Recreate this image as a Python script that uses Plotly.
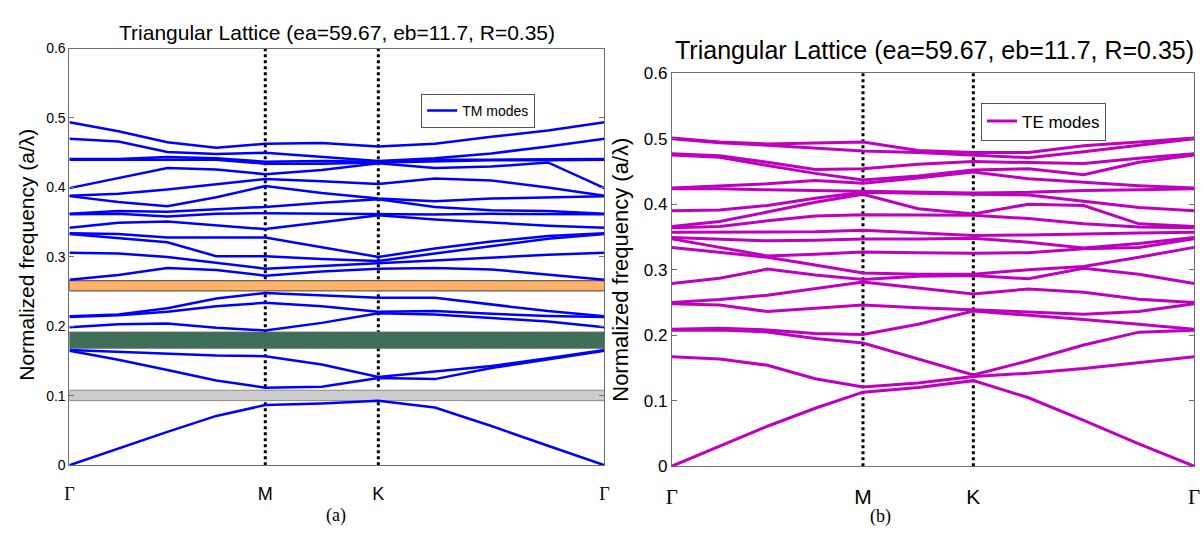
import plotly.graph_objects as go

# ---------------- data ----------------
sym_labels = ["Γ", "M", "K", "Γ"]
sym_k = [0.0, 0.5774, 0.9107, 1.5774]
k_points = [0.0, 0.1443, 0.2887, 0.4330, 0.5774, 0.7440, 0.9107, 1.0774, 1.2440, 1.4107, 1.5774]

# TM modes: frequencies (a/lambda) read at each k point
tm_k0 = [0, 0.165, 0.166, 0.1986, 0.2135, 0.2145, 0.267, 0.306, 0.333, 0.334, 0.342, 0.3615, 0.362, 0.3875, 0.388, 0.399, 0.440, 0.441, 0.470, 0.494]
tm_k1 = [0.0245, 0.152, 0.163, 0.203, 0.216, 0.217, 0.274, 0.305, 0.327, 0.333, 0.349, 0.362, 0.366, 0.379, 0.391, 0.414, 0.440, 0.441, 0.466, 0.481]
tm_k2 = [0.048, 0.137, 0.160, 0.204, 0.221, 0.226, 0.284, 0.300, 0.321, 0.328, 0.351, 0.358, 0.365, 0.373, 0.397, 0.428, 0.440, 0.444, 0.451, 0.465]
tm_k3 = [0.071, 0.122, 0.158, 0.198, 0.229, 0.240, 0.281, 0.292, 0.301, 0.328, 0.346, 0.362, 0.368, 0.386, 0.405, 0.426, 0.440, 0.442, 0.448, 0.457]
tm_k4 = [0.0866, 0.1116, 0.157, 0.194, 0.234, 0.248, 0.273, 0.283, 0.301, 0.328, 0.340, 0.363, 0.372, 0.402, 0.412, 0.419, 0.434, 0.437, 0.450, 0.463]
tm_k5 = [0.089, 0.113, 0.145, 0.205, 0.229, 0.245, 0.279, 0.287, 0.297, 0.314, 0.350, 0.362, 0.378, 0.392, 0.409, 0.425, 0.434, 0.438, 0.444, 0.464]
tm_k6 = [0.093, 0.1255, 0.127, 0.219, 0.221, 0.241, 0.283, 0.291, 0.294, 0.300, 0.360, 0.361, 0.383, 0.384, 0.405, 0.435, 0.436, 0.437, 0.438, 0.459]
tm_k7 = [0.083, 0.124, 0.135, 0.217, 0.222, 0.241, 0.284, 0.296, 0.305, 0.312, 0.354, 0.361, 0.372, 0.380, 0.413, 0.428, 0.438, 0.440, 0.442, 0.463]
tm_k8 = [0.0565, 0.140, 0.143, 0.212, 0.218, 0.232, 0.282, 0.300, 0.316, 0.322, 0.349, 0.362, 0.367, 0.384, 0.410, 0.430, 0.439, 0.440, 0.449, 0.473]
tm_k9 = [0.028, 0.152, 0.154, 0.207, 0.215, 0.222, 0.274, 0.303, 0.326, 0.330, 0.345, 0.362, 0.366, 0.386, 0.400, 0.436, 0.439, 0.440, 0.459, 0.482]
tm_k10 = [0, 0.165, 0.166, 0.1986, 0.2135, 0.2145, 0.267, 0.306, 0.333, 0.334, 0.342, 0.3615, 0.362, 0.3875, 0.388, 0.399, 0.440, 0.441, 0.470, 0.494]

# TE modes
te_k0 = [0, 0.167, 0.2075, 0.209, 0.248, 0.250, 0.279, 0.334, 0.347, 0.349, 0.357, 0.364, 0.366, 0.390, 0.4235, 0.4245, 0.475, 0.477, 0.500, 0.501]
te_k1 = [0.0305, 0.1635, 0.208, 0.2104, 0.246, 0.2545, 0.287, 0.327, 0.334, 0.3466, 0.357, 0.366, 0.3735, 0.391, 0.4235, 0.4275, 0.4716, 0.474, 0.4936, 0.495]
te_k2 = [0.061, 0.154, 0.205, 0.208, 0.236, 0.261, 0.301, 0.319, 0.321, 0.344, 0.357, 0.3745, 0.388, 0.398, 0.422, 0.431, 0.459, 0.464, 0.490, 0.492]
te_k3 = [0.0885, 0.1335, 0.195, 0.2025, 0.241, 0.271, 0.292, 0.307, 0.3235, 0.345, 0.358, 0.382, 0.403, 0.409, 0.421, 0.436, 0.447, 0.453, 0.485, 0.494]
te_k4 = [0.113, 0.121, 0.188, 0.201, 0.246, 0.281, 0.285, 0.295, 0.327, 0.347, 0.360, 0.384, 0.415, 0.418, 0.420, 0.432, 0.437, 0.454, 0.481, 0.495]
te_k5 = [0.120, 0.127, 0.1635, 0.2167, 0.242, 0.272, 0.290, 0.293, 0.326, 0.347, 0.356, 0.384, 0.393, 0.416, 0.418, 0.440, 0.443, 0.461, 0.479, 0.482]
te_k6 = [0.1306, 0.137, 0.1393, 0.237, 0.2385, 0.2627, 0.291, 0.293, 0.325, 0.348, 0.352, 0.383, 0.385, 0.415, 0.417, 0.449, 0.452, 0.465, 0.4755, 0.479]
te_k7 = [0.1045, 0.142, 0.161, 0.231, 0.235, 0.2706, 0.286, 0.300, 0.326, 0.342, 0.353, 0.378, 0.400, 0.414, 0.418, 0.4387, 0.454, 0.464, 0.471, 0.479]
te_k8 = [0.070, 0.149, 0.185, 0.224, 0.232, 0.2657, 0.302, 0.305, 0.332, 0.333, 0.355, 0.370, 0.398, 0.404, 0.421, 0.433, 0.445, 0.462, 0.480, 0.489]
te_k9 = [0.034, 0.158, 0.2046, 0.2166, 0.236, 0.255, 0.293, 0.319, 0.334, 0.340, 0.356, 0.365, 0.370, 0.395, 0.422, 0.428, 0.464, 0.470, 0.490, 0.495]
te_k10 = [0, 0.167, 0.2075, 0.209, 0.248, 0.250, 0.279, 0.334, 0.347, 0.349, 0.357, 0.364, 0.366, 0.390, 0.4235, 0.4245, 0.475, 0.477, 0.500, 0.501]

# band gaps (TM panel)
gap_low = [0.093, 0.1685, 0.251]
gap_high = [0.108, 0.1917, 0.2657]
gap_fill = ["#cccccc", "#3d6e57", "#fdb36a"]
gap_edge = ["#8c8c8c", "#6b6b6b", "#4a3d30"]

y_ticks = [0, 0.1, 0.2, 0.3, 0.4, 0.5, 0.6]
title_text = "Triangular Lattice (ea=59.67, eb=11.7, R=0.35)"
ylabel_text = "Normalized frequency (a/λ)"

# ---------------- build ----------------
def to_bands(cols):
    cols = [sorted(c) for c in cols]
    nb = len(cols[0])
    return [[c[i] for c in cols] for i in range(nb)]

tm_bands = to_bands([tm_k0, tm_k1, tm_k2, tm_k3, tm_k4, tm_k5, tm_k6, tm_k7, tm_k8, tm_k9, tm_k10])
te_bands = to_bands([te_k0, te_k1, te_k2, te_k3, te_k4, te_k5, te_k6, te_k7, te_k8, te_k9, te_k10])

W, H = 1203, 536
BLUE = "#0000ff"
MAG = "#bf00bf"
SANS = "Arial, Liberation Sans, sans-serif"
SERIF = "Times New Roman, Liberation Serif, serif"

fig = go.Figure()
for i, b in enumerate(tm_bands):
    fig.add_trace(go.Scatter(x=k_points, y=b, mode="lines", line=dict(color=BLUE, width=2.5),
                             name="TM modes", showlegend=(i == 0), legend="legend",
                             xaxis="x", yaxis="y", hoverinfo="skip"))
for i, b in enumerate(te_bands):
    fig.add_trace(go.Scatter(x=k_points, y=b, mode="lines", line=dict(color=MAG, width=3),
                             name="TE modes", showlegend=(i == 0), legend="legend2",
                             xaxis="x2", yaxis="y2", hoverinfo="skip"))

def tick_text(labels):
    out = []
    for s in labels:
        if s == "Γ":
            out.append("<span style='font-family:Liberation Serif, Times New Roman, serif'>Γ</span>")
        else:
            out.append(s)
    return out

shapes = []
# dotted symmetry lines
for ax, yref in (("x", "y"), ("x2", "y2")):
    for kk in sym_k[1:3]:
        shapes.append(dict(type="line", xref=ax, yref=yref + " domain", x0=kk, x1=kk, y0=0, y1=1,
                           line=dict(color="black", width=3, dash="dot"), layer="below"))
# band gaps
for lo, hi, fc, ec in zip(gap_low, gap_high, gap_fill, gap_edge):
    shapes.append(dict(type="rect", xref="x", yref="y", x0=sym_k[0], x1=sym_k[-1], y0=lo, y1=hi,
                       fillcolor=fc, line=dict(color=ec, width=1), layer="below"))

L_dom_x = [64 / W, 604 / W]
L_dom_y = [1 - 473 / H, 1 - 41 / H]
R_dom_x = [672 / W, 1199 / W]
R_dom_y = [1 - 474 / H, 1 - 66.5 / H]

def xaxis(dom, fs, standoff, anchor):
    return dict(domain=dom, range=[sym_k[0], sym_k[-1]], tickvals=sym_k, ticktext=tick_text(sym_labels),
                ticks="", showline=True, linecolor="#6e6e6e", linewidth=1, mirror=True,
                showgrid=False, zeroline=False, tickfont=dict(family=SANS, size=fs, color="black"),
                ticklabelstandoff=standoff, fixedrange=True, anchor=anchor)

def yaxis(dom, fs, anchor):
    return dict(domain=dom, range=[0, 0.6], tickvals=y_ticks, ticks="inside", ticklen=5,
                tickcolor="#6e6e6e", showline=True, linecolor="#6e6e6e", linewidth=1, mirror="ticks",
                showgrid=False, zeroline=False, anchor=anchor,
                tickfont=dict(family=SANS, size=fs, color="black"), fixedrange=True)

annotations = [
    dict(text=title_text, x=334 / W, y=1 - 24 / H, xref="paper", yref="paper", showarrow=False,
         xanchor="center", yanchor="middle", font=dict(family=SANS, size=21, color="black")),
    dict(text=title_text, x=937 / W, y=1 - 43 / H, xref="paper", yref="paper", showarrow=False,
         xanchor="center", yanchor="middle", font=dict(family=SANS, size=25, color="black")),
    dict(text=ylabel_text, x=21 / W, y=1 - 255 / H, xref="paper", yref="paper", showarrow=False,
         textangle=-90, xanchor="center", yanchor="middle", font=dict(family=SANS, size=21, color="black")),
    dict(text=ylabel_text, x=620 / W, y=1 - 270 / H, xref="paper", yref="paper", showarrow=False,
         textangle=-90, xanchor="center", yanchor="middle", font=dict(family=SANS, size=22, color="black")),
    dict(text="(a)", x=333 / W, y=1 - 525 / H, xref="paper", yref="paper", showarrow=False,
         xanchor="center", yanchor="middle", font=dict(family=SERIF, size=18, color="black")),
    dict(text="(b)", x=883 / W, y=1 - 526 / H, xref="paper", yref="paper", showarrow=False,
         xanchor="center", yanchor="middle", font=dict(family=SERIF, size=18, color="black")),
]

fig.update_layout(
    width=W, height=H, margin=dict(l=0, r=0, t=0, b=0),
    paper_bgcolor="white", plot_bgcolor="white",
    xaxis=xaxis(L_dom_x, 18, 12, "y"), yaxis=yaxis(L_dom_y, 14, "x"),
    xaxis2=xaxis(R_dom_x, 21, 12, "y2"), yaxis2=yaxis(R_dom_y, 17, "x2"),
    shapes=shapes, annotations=annotations,
    legend=dict(x=419 / W, y=1 - 88 / H, xanchor="left", yanchor="top", bgcolor="white",
                bordercolor="#555555", borderwidth=1, font=dict(family=SANS, size=14, color="black"),
                tracegroupgap=0, itemwidth=30),
    legend2=dict(x=984 / W, y=1 - 97 / H, xanchor="left", yanchor="top", bgcolor="white",
                 bordercolor="#555555", borderwidth=1, font=dict(family=SANS, size=17, color="black"),
                 tracegroupgap=0, itemwidth=30),
    showlegend=True,
)

fig.write_html(
    "out.html",
    config={"displayModeBar": False, "staticPlot": False},
    post_script="document.body.style.margin='0px';document.body.style.padding='0px';"
                "document.body.style.overflow='hidden';",
)
